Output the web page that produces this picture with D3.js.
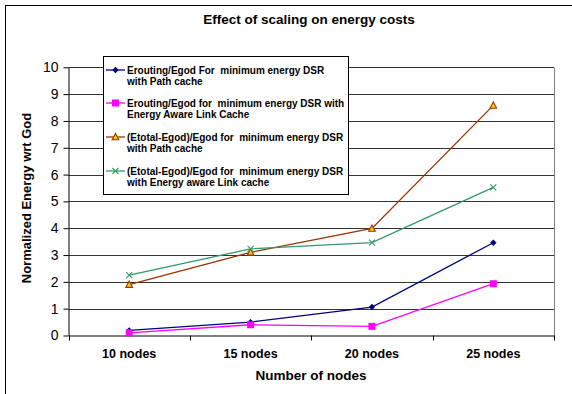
<!DOCTYPE html>
<html><head><meta charset="utf-8">
<script src="https://cdn.jsdelivr.net/npm/d3@7"></script>
<style>body{margin:0;background:#fff}svg{display:block}text{white-space:pre}</style>
</head><body>
<script>
const categories = ["10 nodes","15 nodes","20 nodes","25 nodes"];
const routingPath = [0.19, 0.5, 1.06, 3.46];
const routingAware = [0.1, 0.4, 0.34, 1.93];
const totalPath = [1.9, 3.1, 3.99, 8.58];
const totalAware = [2.25, 3.23, 3.46, 5.52];
const yTicks = [0,1,2,3,4,5,6,7,8,9,10];
const seriesNames = [
  ["Erouting/Egod For  minimum energy DSR","with Path cache"],
  ["Erouting/Egod for  minimum energy DSR with","Energy Aware Link Cache"],
  ["(Etotal-Egod)/Egod for  minimum energy DSR","with Path cache"],
  ["(Etotal-Egod)/Egod for  minimum energy DSR","with Energy aware Link cache"]
];
const series = [
  {vals: routingPath, color:"#000080", marker:"diamond"},
  {vals: routingAware, color:"#FF00FF", marker:"square"},
  {vals: totalPath, color:"#993300", marker:"triangle"},
  {vals: totalAware, color:"#339966", marker:"x"}
];

const W=572,H=394;
const FONT="Arial, 'Liberation Sans', sans-serif";
const svg=d3.select("body").append("svg").attr("width",W).attr("height",H).style("font-family",FONT);
svg.append("rect").attr("x",5.5).attr("y",5.5).attr("width",W).attr("height",H).attr("fill","#fff").attr("stroke","#000");

const L=68.5,R=554,T=67.3,B=335.5;
const x=d3.scaleBand().domain(categories).range([L,R]);
const y=d3.scaleLinear().domain([0,10]).range([B,T]);

// grid
svg.append("g").selectAll("line").data(yTicks.slice(1)).join("line")
  .attr("x1",L).attr("x2",R).attr("y1",d=>Math.round(y(d))+0.5).attr("y2",d=>Math.round(y(d))+0.5)
  .attr("stroke","#333").attr("stroke-width",1);
svg.append("line").attr("x1",R+0.5).attr("x2",R+0.5).attr("y1",Math.round(T)+0.5).attr("y2",B).attr("stroke","#808080");

// y axis
const ya=svg.append("g").attr("transform",`translate(${L},0)`)
  .call(d3.axisLeft(y).tickValues(yTicks).tickSize(5).tickPadding(5).tickSizeOuter(0));
ya.select(".domain").attr("stroke","#000");
ya.selectAll(".tick line").attr("stroke","#000");
ya.selectAll("text").attr("font-size","14px").attr("fill","#000").attr("font-family",FONT);

// x axis
const xa=svg.append("g").attr("transform",`translate(0,${B})`)
  .call(d3.axisBottom(x).tickValues([]).tickSizeOuter(0));
xa.select(".domain").attr("stroke","#000");
const bounds=[L,...categories.map(c=>x(c)+x.bandwidth())];
svg.append("g").selectAll("line").data(bounds).join("line")
  .attr("x1",d=>Math.round(d)+0.5).attr("x2",d=>Math.round(d)+0.5).attr("y1",B).attr("y2",B+5).attr("stroke","#000");
svg.append("g").selectAll("text").data(categories).join("text")
  .attr("x",d=>x(d)+x.bandwidth()/2).attr("y",358).attr("text-anchor","middle")
  .attr("font-size","12.5px").attr("font-weight","bold").text(d=>d);

// titles
svg.append("text").attr("x",309).attr("y",24).attr("text-anchor","middle").attr("font-size","13.5px").attr("font-weight","bold").text("Effect of scaling on energy costs");
svg.append("text").attr("x",311).attr("y",380).attr("text-anchor","middle").attr("font-size","13.5px").attr("font-weight","bold").text("Number of nodes");
svg.append("text").attr("transform","translate(31,198) rotate(-90)").attr("text-anchor","middle").attr("font-size","13px").attr("font-weight","bold").text("Normalized Energy wrt God");

function drawMarker(g,type,color,cx,cy){
  if(type==="diamond"){
    g.append("path").attr("d",`M${cx},${cy-3.2}L${cx+3.2},${cy}L${cx},${cy+3.2}L${cx-3.2},${cy}Z`).attr("fill",color);
  } else if(type==="square"){
    g.append("rect").attr("x",cx-3.5).attr("y",cy-3.5).attr("width",7).attr("height",7).attr("fill",color);
  } else if(type==="triangle"){
    g.append("path").attr("d",`M${cx},${cy-3.5}L${cx+3.3},${cy+2.8}L${cx-3.3},${cy+2.8}Z`).attr("fill","#FFCC00").attr("stroke",color).attr("stroke-width",1.1);
  } else {
    g.append("path").attr("d",`M${cx-3},${cy-3}L${cx+3},${cy+3}M${cx+3},${cy-3}L${cx-3},${cy+3}`).attr("stroke",color).attr("stroke-width",1.1);
  }
}

const line=d3.line().x((d,i)=>x(categories[i])+x.bandwidth()/2).y(d=>y(d));
series.forEach(s=>{
  svg.append("path").datum(s.vals).attr("d",line).attr("fill","none").attr("stroke",s.color).attr("stroke-width",1.3);
  const g=svg.append("g");
  s.vals.forEach((v,i)=>drawMarker(g,s.marker,s.color,x(categories[i])+x.bandwidth()/2,y(v)));
});

// legend
const lg=svg.append("g");
lg.append("rect").attr("x",103.5).attr("y",56.5).attr("width",245).attr("height",138).attr("fill","#fff").attr("stroke","#000");
const rowY=[70,103,137,171];
series.forEach((s,i)=>{
  const cy=rowY[i];
  lg.append("line").attr("x1",106).attr("x2",125).attr("y1",cy).attr("y2",cy).attr("stroke",s.color).attr("stroke-width",1.3);
  drawMarker(lg,s.marker,s.color,115.5,cy);
  seriesNames[i].forEach((t,j)=>{
    lg.append("text").attr("x",127).attr("y",cy+3.5+j*11.5).attr("font-size","10px").attr("font-weight","bold").text(t);
  });
});
</script>
</body></html>
